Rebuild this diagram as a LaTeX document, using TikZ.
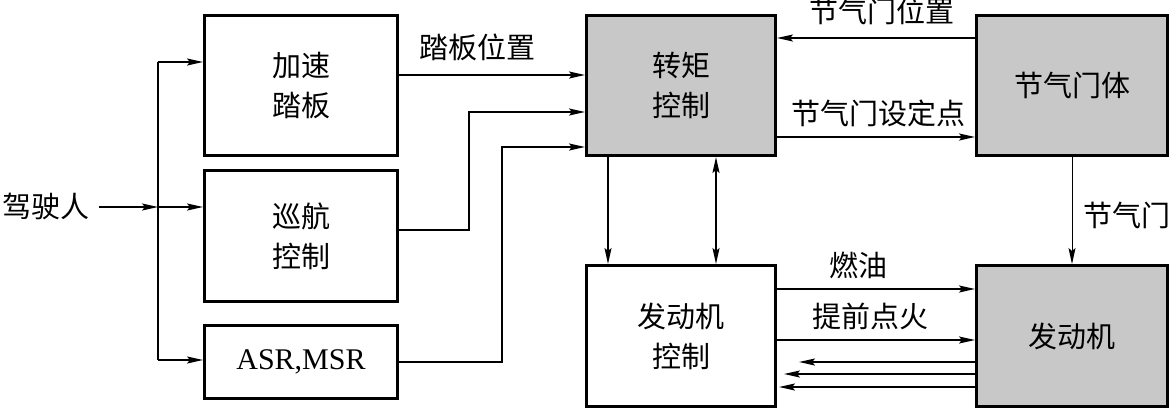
\documentclass[tikz,border=0pt]{standalone}
\usepackage{fontspec}
\setmainfont{Liberation Serif}
\newfontfamily\cjk{Noto Sans CJK SC}
\usetikzlibrary{arrows.meta}
\definecolor{boxgray}{RGB}{200,200,200}
\begin{document}
\begin{tikzpicture}[x=1pt,y=-1pt,
 box/.style={draw,line width=3pt,minimum width=193pt,inner sep=0pt,align=center,font=\cjk\fontsize{29}{40}\selectfont},
 gbox/.style={box,fill=boxgray},
 arr/.style={line width=1.8pt,-{Stealth[length=16pt,width=7pt,inset=3pt]}},
 darr/.style={line width=1.8pt,{Stealth[length=16pt,width=7pt,inset=3pt]}-{Stealth[length=16pt,width=7pt,inset=3pt]}},
 lbl/.style={font=\cjk\fontsize{29}{34}\selectfont,inner sep=0pt}]
\useasboundingbox (0,0) rectangle (1172,410);
% boxes
\node[box,minimum height=140pt] (acc) at (301,85.5) {加速\\踏板};
\node[box,minimum height=131pt] (cru) at (301,236) {巡航\\控制};
\node[box,minimum height=73pt,font=\fontsize{30}{34}\selectfont] (asr) at (301,362) {ASR,MSR};
\node[gbox,minimum width=189pt,minimum height=140pt] (tq) at (681,85.5) {转矩\\控制};
\node[gbox,minimum width=191pt,minimum height=140pt] (thr) at (1072,85.5) {节气门体};
\node[box,minimum width=189pt,minimum height=141pt] (ecu) at (681,336) {发动机\\控制};
\node[gbox,minimum width=191pt,minimum height=141pt] (eng) at (1072,336) {发动机};
% driver
\node[lbl,anchor=east] (drv) at (90,207) {驾驶人};
\coordinate (b1) at (158,62);
\coordinate (b2) at (158,207);
\coordinate (b3) at (158,360);
\draw[line width=1.8pt] (b1) -- (b3);
\draw[arr] ([xshift=9pt]drv.east) -- (b2);
\draw[arr] (b1) -- (acc.west |- b1);
\draw[arr] (b2) -- (cru.west |- b2);
\draw[arr] (b3) -- (asr.west |- b3);
% into torque control
\draw[arr] (acc.east |- 0,75) -- (tq.west |- 0,75);
\node[lbl] (l1) at (477,47) {踏板位置};
\coordinate (c1) at (469,230);
\coordinate (c2) at (469,112);
\draw[arr] (cru.east |- c1) -- (c1) -- (c2) -- (tq.west |- c2);
\coordinate (d1) at (502,362);
\coordinate (d2) at (502,147);
\draw[arr] (asr.east |- d1) -- (d1) -- (d2) -- (tq.west |- d2);
% throttle
\draw[arr] (thr.west |- 0,38) -- (tq.east |- 0,38);
\node[lbl] (l2) at (882,11) {节气门位置};
\draw[arr] (tq.east |- 0,137) -- (thr.west |- 0,137);
\node[lbl] (l3) at (878,113) {节气门设定点};
\draw[arr,line width=1pt] (thr.south) -- (eng.north);
\node[lbl] (l4) at (1127,215) {节气门};
% torque -> engine control
\draw[arr] (tq.south -| 608,0) -- (ecu.north -| 608,0);
\draw[darr] (tq.south -| 716,0) -- (ecu.north -| 716,0);
% engine control <-> engine
\draw[arr] (ecu.east |- 0,289) -- (eng.west |- 0,289);
\node[lbl] (l5) at (858,265) {燃油};
\draw[arr] (ecu.east |- 0,340) -- (eng.west |- 0,340);
\node[lbl] (l6) at (870,316) {提前点火};
\draw[arr,shorten >=22pt] (eng.west |- 0,362) -- (ecu.east |- 0,362);
\draw[arr,shorten >=7pt] (eng.west |- 0,374) -- (ecu.east |- 0,374);
\draw[arr,shorten >=2pt] (eng.west |- 0,387) -- (ecu.east |- 0,387);
\end{tikzpicture}
\end{document}
